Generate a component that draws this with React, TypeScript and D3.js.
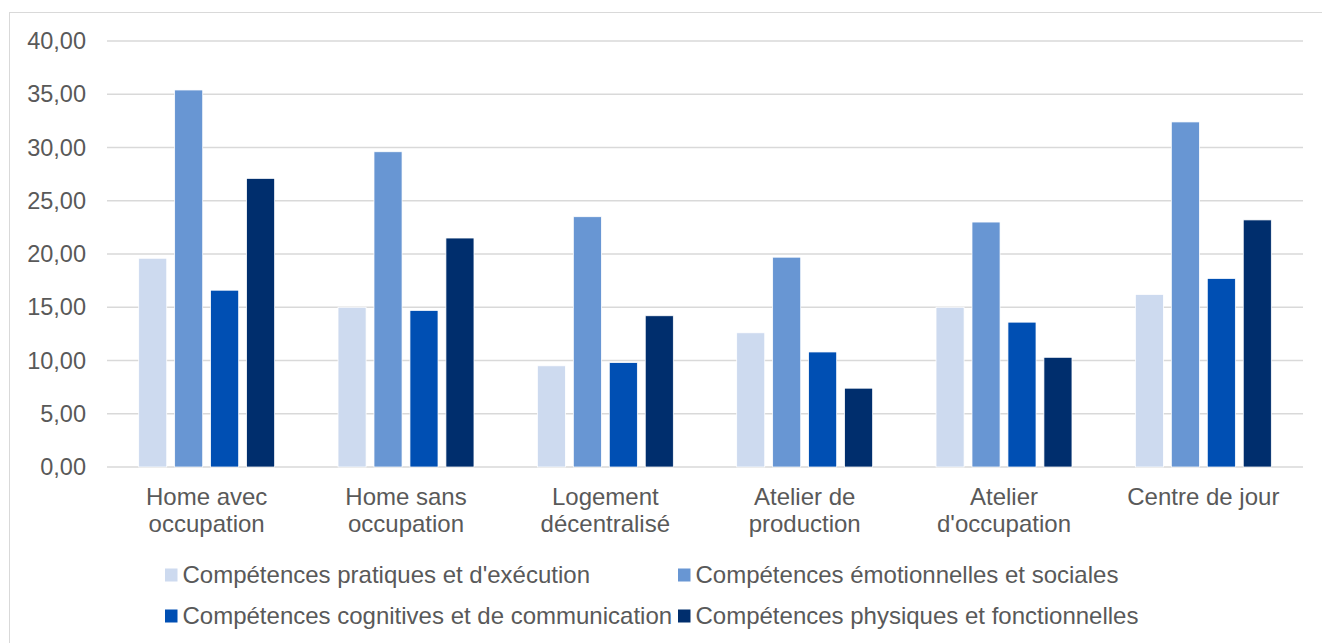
import React, { useEffect, useRef } from "react";
import * as d3 from "d3";

const categories = [
  ["Home avec", "occupation"],
  ["Home sans", "occupation"],
  ["Logement", "décentralisé"],
  ["Atelier de", "production"],
  ["Atelier", "d'occupation"],
  ["Centre de jour"],
];

const seriesNames = [
  "Compétences pratiques et d'exécution",
  "Compétences émotionnelles et sociales",
  "Compétences cognitives et de communication",
  "Compétences physiques et fonctionnelles",
];

const pratiques = [19.6, 15.0, 9.5, 12.6, 15.0, 16.2];
const emotionnelles = [35.4, 29.6, 23.5, 19.7, 23.0, 32.4];
const cognitives = [16.6, 14.7, 9.8, 10.8, 13.6, 17.7];
const physiques = [27.1, 21.5, 14.2, 7.4, 10.3, 23.2];

const yTicks = [0, 5, 10, 15, 20, 25, 30, 35, 40];

const colors = ["#cddaef", "#6896d3", "#004fb3", "#002e6d"];

export default function App() {
  const ref = useRef<SVGSVGElement>(null);

  useEffect(() => {
    const width = 1322;
    const height = 643;
    const margin = { top: 41, right: 19, bottom: 176, left: 107 };
    const values = [pratiques, emotionnelles, cognitives, physiques];
    const font = "'Liberation Sans', Arial, sans-serif";

    const svg = d3.select(ref.current);
    svg.selectAll("*").remove();

    svg
      .append("rect")
      .attr("x", 9.5)
      .attr("y", 12.5)
      .attr("width", width + 10)
      .attr("height", height + 10)
      .attr("fill", "white")
      .attr("stroke", "#d9d9d9");

    const keys = categories.map((c, i) => String(i));

    const x0 = d3
      .scaleBand()
      .domain(keys)
      .range([margin.left, width - margin.right])
      .paddingInner(0.318)
      .paddingOuter(0.159);

    const x1 = d3
      .scaleBand()
      .domain(seriesNames)
      .range([0, x0.bandwidth()])
      .paddingInner(0.22);

    const y = d3
      .scaleLinear()
      .domain([0, 40])
      .range([height - margin.bottom, margin.top]);

    // gridlines
    svg
      .append("g")
      .selectAll("line")
      .data(yTicks)
      .join("line")
      .attr("x1", margin.left)
      .attr("x2", width - margin.right)
      .attr("y1", d => y(d))
      .attr("y2", d => y(d))
      .attr("stroke", "#d9d9d9")
      .attr("stroke-width", 1.5);

    svg
      .append("g")
      .attr("font-family", font)
      .attr("font-size", 23.5)
      .attr("fill", "#595959")
      .attr("text-anchor", "end")
      .selectAll("text")
      .data(yTicks)
      .join("text")
      .attr("x", 86)
      .attr("y", d => y(d))
      .attr("dy", "0.35em")
      .text(d => d3.format(".2f")(d).replace(".", ","));

    // bars
    const group = svg
      .append("g")
      .selectAll("g")
      .data(keys)
      .join("g")
      .attr("transform", d => `translate(${x0(d)},0)`);

    group
      .selectAll("rect")
      .data((d, i) => seriesNames.map((s, j) => ({ s, j, v: values[j][i] })))
      .join("rect")
      .attr("x", d => x1(d.s)!)
      .attr("y", d => y(d.v))
      .attr("width", x1.bandwidth())
      .attr("height", d => y(0) - y(d.v))
      .attr("fill", d => colors[d.j])
      .attr("stroke", "white")
      .attr("stroke-width", 0.75);

    // category labels
    svg
      .append("g")
      .attr("font-family", font)
      .attr("font-size", 24)
      .attr("fill", "#595959")
      .attr("text-anchor", "middle")
      .selectAll("text")
      .data(categories)
      .join("text")
      .attr("x", (d, i) => x0(String(i))! + x0.bandwidth() / 2)
      .attr("y", 505)
      .selectAll("tspan")
      .data(d => d)
      .join("tspan")
      .attr("x", function () {
        return (this as any).parentNode.getAttribute("x");
      })
      .attr("dy", (d, i) => (i === 0 ? 0 : 27))
      .text(d => d);

    // legend
    const legendPos = [
      [165, 575],
      [678, 575],
      [165, 616],
      [678, 616],
    ];
    const legend = svg
      .append("g")
      .attr("font-family", font)
      .attr("font-size", 24)
      .attr("fill", "#595959")
      .selectAll("g")
      .data(seriesNames)
      .join("g")
      .attr("transform", (d, i) => `translate(${legendPos[i][0]},${legendPos[i][1]})`);

    legend
      .append("rect")
      .attr("x", 0)
      .attr("y", -6.5)
      .attr("width", 12.5)
      .attr("height", 13)
      .attr("fill", (d, i) => colors[i]);

    legend
      .append("text")
      .attr("x", 17.5)
      .attr("y", 0)
      .attr("dy", "0.35em")
      .text(d => d);
  }, []);

  return (
    <svg
      ref={ref}
      width={1322}
      height={643}
      style={{ position: "absolute", left: 0, top: 0 }}
    />
  );
}
